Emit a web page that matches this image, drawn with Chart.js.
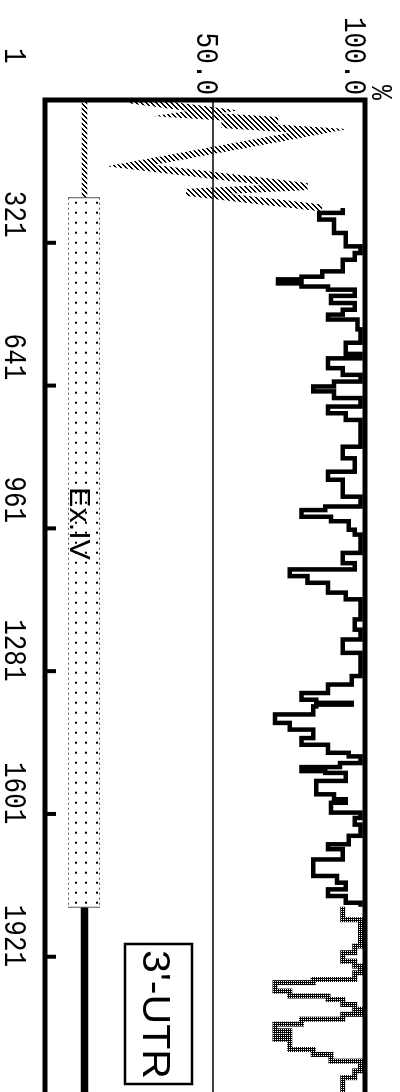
<!DOCTYPE html>
<html>
<head>
<meta charset="utf-8">
<script src="https://cdn.jsdelivr.net/npm/chart.js@4.4.1/dist/chart.umd.min.js"></script>
<style>
  html, body { margin: 0; padding: 0; background: #fff; overflow: hidden; }
  #wrap { position: absolute; left: 0; top: 0; width: 1120px; height: 400px;
          transform-origin: 0 0; transform: translate(400px, 0) rotate(90deg); }
</style>
</head>
<body>
<div id="wrap"><canvas id="myChart" width="1120" height="400"></canvas></div>
<script>
// sequence positions (nt) and % values
const hatchPos = [1, 25, 34, 47, 56, 70, 80, 148, 195, 208, 243];
const hatchVal = [22, 50, 41, 72, 53, 86, 78, 22, 82, 41, 87];

const solidPos = [243, 254, 269, 299, 329, 344, 359, 385, 397, 403, 412, 419, 426, 440, 456,
  471, 482, 493, 515, 545, 570, 580, 602, 617, 632, 643, 654, 669, 688, 703, 718, 778, 804,
  834, 852, 890, 912, 920, 935, 945, 964, 975, 1016, 1039, 1053, 1068, 1083, 1105, 1120,
  1165, 1188, 1210, 1240, 1292, 1311, 1330, 1345, 1352, 1356, 1360, 1378, 1397, 1412, 1431,
  1446, 1464, 1472, 1487, 1496, 1505, 1509, 1527, 1557, 1568, 1576, 1598, 1610, 1625, 1650,
  1669, 1680, 1703, 1740, 1755, 1770, 1785, 1800, 1809];
const solidVal = [94, 86, 91, 95, 100, 98, 94, 87, 80, 72, 80, 89, 98, 90, 98,
  94, 89, 99, 100, 95, 100, 89, 94, 100, 91, 84, 91, 100, 89, 95, 100, 94, 98,
  89, 94, 100, 88, 80, 90, 96, 98, 100, 94, 98, 76, 82, 89, 95, 100,
  98, 100, 94, 100, 97, 89, 80, 85, 97, 85, 84, 71, 76, 84, 80,
  89, 96, 100, 93, 80, 88, 95, 85, 91, 95, 90, 100, 98, 100, 96,
  89, 94, 84, 92, 95, 89, 95, 100, 100];

const greyPos = [1809, 1838, 1897, 1912, 1931, 1942, 1957, 1972, 1979, 1998, 2009, 2017, 2028,
  2039, 2050, 2061, 2072, 2087, 2099, 2106, 2129, 2140, 2155, 2177, 2192, 2260];
const greyVal = [94, 100, 98, 94, 98, 100, 98, 84, 71, 76, 89, 94, 98,
  100, 94, 80, 71, 76, 71, 76, 84, 90, 100, 98, 94, 94];

const posTicks = [1, 321, 641, 961, 1281, 1601, 1921];
const valueTicks = [50, 100];
const valueLabels = ["50.0", "100.0"];
const exonStart = 220, exonEnd = 1810, exonName = "Ex.IV";
const utrLabel = "3'-UTR";

function pts(xs, ys) { return xs.map((x, i) => ({ x: x, y: ys[i] })); }

function makePattern(size, test) {
  const c = document.createElement("canvas");
  c.width = c.height = size;
  const g = c.getContext("2d");
  g.fillStyle = "#000";
  for (let i = 0; i < size; i++)
    for (let j = 0; j < size; j++)
      if (test(i, j)) g.fillRect(i, j, 1, 1);
  return g.createPattern(c, "repeat");
}
// diagonal hatching and a dithered grey
const hatch = makePattern(5, (i, j) => (i + j) % 5 < 2);
const stipple = makePattern(2, (i, j) => !(i === 1 && j === 0));

function txt(ctx, s, x, y, font, align, sx, sy) {
  ctx.save();
  ctx.translate(x, y);
  ctx.scale(sx || 1, sy || 1);
  ctx.font = font;
  ctx.textAlign = align;
  ctx.textBaseline = "alphabetic";
  ctx.fillStyle = "#000";
  ctx.fillText(s, 0, 0);
  ctx.restore();
}

const framePlugin = {
  id: "frame",
  beforeDatasetsDraw(chart) {
    const { ctx, chartArea: a, scales: { y } } = chart;
    ctx.save();
    ctx.strokeStyle = "#000";
    ctx.lineWidth = 1.5;
    const gy = y.getPixelForValue(50);
    ctx.beginPath(); ctx.moveTo(a.left, gy); ctx.lineTo(a.right + 20, gy); ctx.stroke();
    ctx.restore();
  },
  afterDatasetsDraw(chart) {
    const { ctx, chartArea: a, scales: { x, y } } = chart;
    const mono = "25px 'Liberation Mono'";
    ctx.save();

    // annotation track
    const tv = a.bottom - 39.5;
    const x0 = x.getPixelForValue(1), xs = x.getPixelForValue(exonStart), xe = x.getPixelForValue(exonEnd);
    ctx.strokeStyle = hatch; ctx.lineWidth = 5.5;
    ctx.beginPath(); ctx.moveTo(x0, tv); ctx.lineTo(xs, tv); ctx.stroke();
    ctx.strokeStyle = "#000"; ctx.lineWidth = 7.5;
    ctx.beginPath(); ctx.moveTo(xe, tv); ctx.lineTo(a.right + 20, tv); ctx.stroke();

    // exon box
    const bTop = a.bottom - 55, bBot = a.bottom - 23;
    ctx.fillStyle = "#000";
    for (let u = xs + 4; u < xe - 2; u += 10) {
      [bTop + 2, bTop + 13, bTop + 23].forEach(v => ctx.fillRect(u, v, 2, 2));
    }
    ctx.lineWidth = 1;
    ctx.strokeStyle = "#555";
    ctx.beginPath(); ctx.moveTo(xs, bTop); ctx.lineTo(xs, bBot); ctx.moveTo(xe, bTop); ctx.lineTo(xe, bBot); ctx.stroke();
    ctx.setLineDash([2, 3]);
    ctx.beginPath(); ctx.moveTo(xs, bTop + 0.5); ctx.lineTo(xe, bTop + 0.5);
    ctx.moveTo(xs, bBot - 0.5); ctx.lineTo(xe, bBot - 0.5); ctx.stroke();
    ctx.setLineDash([]);
    ctx.font = "30px 'Liberation Sans'";
    const we = ctx.measureText(exonName).width;
    txt(ctx, exonName, 487, a.bottom - 25, "30px 'Liberation Sans'", "left", 73 / we, 1);

    // 3'-UTR box
    ctx.strokeStyle = "#000"; ctx.lineWidth = 2.5;
    ctx.strokeRect(944, a.bottom - 147, 140, 67);
    ctx.font = "38px 'Liberation Sans'";
    const w = ctx.measureText(utrLabel).width;
    txt(ctx, utrLabel, 950, a.bottom - 98, "38px 'Liberation Sans'", "left", 129 / w, 1);

    // frame
    ctx.strokeStyle = "#000"; ctx.lineWidth = 5;
    ctx.strokeRect(a.left, a.top, a.right - a.left + 30, a.bottom - a.top);

    // position ticks + labels
    posTicks.forEach(p => {
      const px = x.getPixelForValue(p);
      if (p > 1) ctx.fillRect(px - 2, a.bottom - 11, 4, 11);
      txt(ctx, String(p), px - 52, 395, mono, "left", 1.04, 1.25);
    });

    // value labels
    valueTicks.forEach((v, i) => {
      txt(ctx, valueLabels[i], a.left - 5, y.getPixelForValue(v) + 16, mono, "right", 1.04, 1.25);
    });
    txt(ctx, "%", a.left, 28, mono, "right", 1, 1.2);
    ctx.restore();
  }
};

const ctx = document.getElementById("myChart");
new Chart(ctx, {
  type: "line",
  data: {
    datasets: [
      { data: pts(hatchPos, hatchVal), borderColor: hatch, borderWidth: 7, pointRadius: 0, tension: 0 },
      { data: pts(solidPos, solidVal), borderColor: "#000", borderWidth: 4.5, stepped: true, pointRadius: 0 },
      { data: pts(greyPos, greyVal), borderColor: stipple, borderWidth: 5, stepped: true, pointRadius: 0 }
    ]
  },
  options: {
    responsive: false,
    animation: false,
    devicePixelRatio: 1,
    layout: { padding: { left: 100, right: 12, top: 35, bottom: 45 } },
    plugins: { legend: { display: false }, tooltip: { enabled: false } },
    scales: {
      x: { type: "linear", min: 1, max: 2260, display: false },
      y: { min: -6.9, max: 101.5, display: false }
    }
  },
  plugins: [framePlugin]
});
</script>
</body>
</html>
